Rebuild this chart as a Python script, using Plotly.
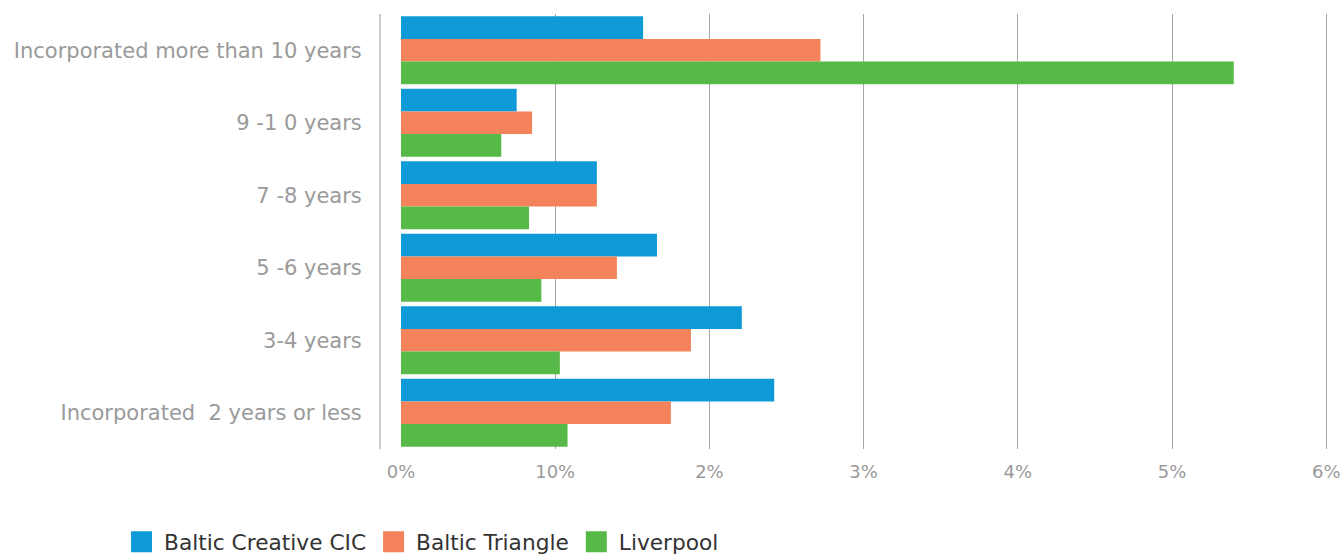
import plotly.graph_objects as go

categories = [
    "Incorporated more than 10 years",
    "9 -1 0 years",
    "7 -8 years",
    "5 -6 years",
    "3-4 years",
    "Incorporated\u00a0 2 years or less",
]
series_names = ["Baltic Creative CIC", "Baltic Triangle", "Liverpool"]
baltic_creative = [1.57, 0.75, 1.27, 1.66, 2.21, 2.42]
baltic_triangle = [2.72, 0.85, 1.27, 1.40, 1.88, 1.75]
liverpool = [5.40, 0.65, 0.83, 0.91, 1.03, 1.08]
tick_vals = [0, 1, 2, 3, 4, 5, 6]
tick_text = ["0%", "10%", "2%", "3%", "4%", "5%", "6%"]

colors = ["#0E9AD7", "#F4825A", "#57B947"]
FONT = "DejaVu Sans"

fig = go.Figure()
for name, vals, col in zip(series_names, [baltic_creative, baltic_triangle, liverpool], colors):
    fig.add_trace(go.Bar(
        y=categories, x=vals, name=name, orientation="h",
        marker=dict(color=col, line=dict(width=0)),
        showlegend=False,
    ))
for name, col in zip(series_names, colors):
    fig.add_trace(go.Scatter(
        x=[None], y=[None], mode="markers", name=name,
        marker=dict(symbol="square", size=16, color=col, line=dict(color=col, width=5)),
        showlegend=True,
    ))

fig.update_layout(
    width=1342, height=554,
    margin=dict(l=381, r=0, t=14, b=105, autoexpand=False),
    paper_bgcolor="white", plot_bgcolor="white",
    barmode="group", bargap=0.06, bargroupgap=0,
    font=dict(family=FONT, size=21, color="#9A9A9A"),
    legend=dict(
        orientation="h", x=-0.2726, xanchor="left", y=-0.166, yanchor="top",
        font=dict(family=FONT, size=21.7, color="#333333"),
        itemsizing="trace", traceorder="normal", itemwidth=35,
    ),
    xaxis=dict(
        range=[-0.1297, 6.102], tickvals=tick_vals, ticktext=tick_text,
        showgrid=True, gridcolor="#A6A6A6", gridwidth=1,
        zeroline=True, zerolinecolor="rgba(0,0,0,0)", zerolinewidth=1,
        showline=False, ticks="outside", ticklen=6, tickcolor="rgba(0,0,0,0)",
        tickfont=dict(family=FONT, size=18, color="#9A9A9A"),
        ticklabeloverflow="allow",
        fixedrange=True, automargin=False,
    ),
    yaxis=dict(
        type="category", autorange="reversed",
        showline=True, linecolor="#CCCCCC", linewidth=2,
        showgrid=False, ticks="outside", ticklen=13, tickcolor="rgba(0,0,0,0)",
        tickfont=dict(family=FONT, size=21, color="#9A9A9A"),
        fixedrange=True, automargin=False,
    ),
)

fig.write_html(
    "out.html",
    config={"displayModeBar": False},
    post_script="document.body.style.margin='0';document.body.style.overflow='hidden';",
)
